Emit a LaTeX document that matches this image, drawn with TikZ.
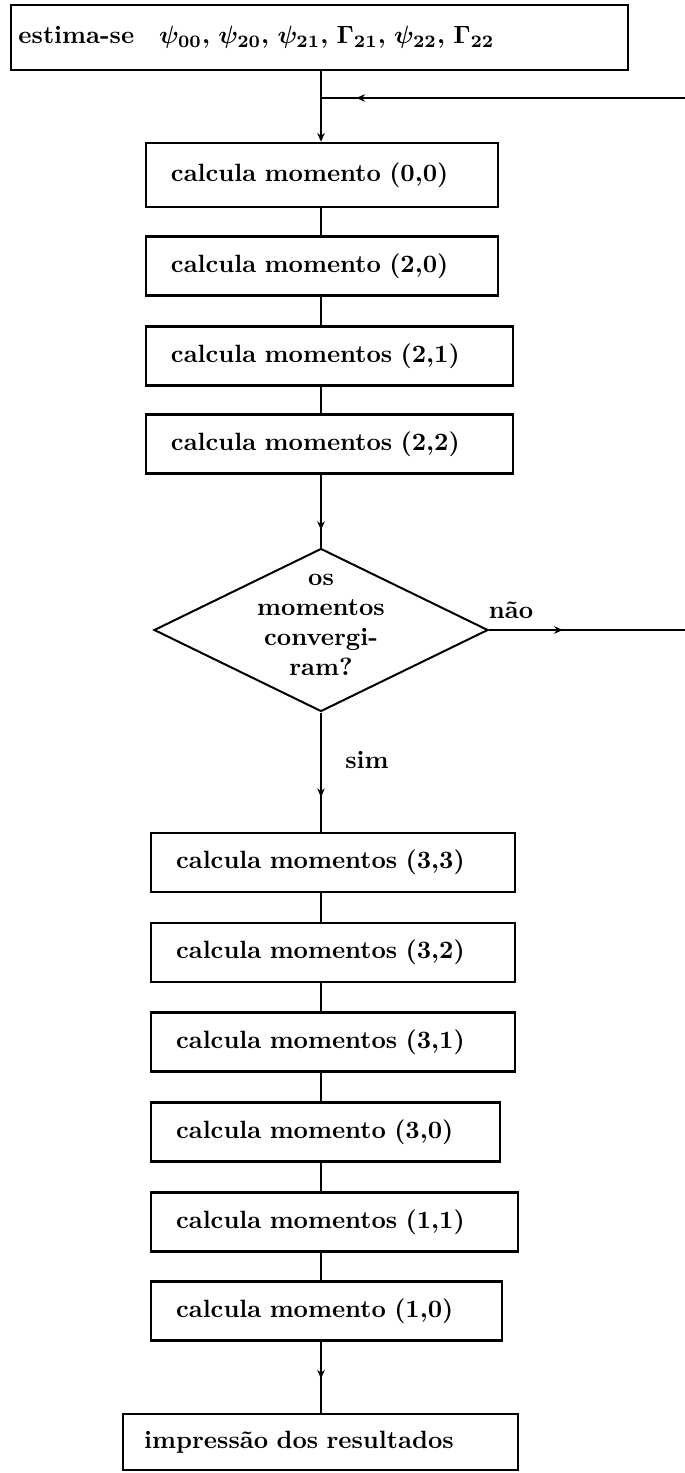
\documentclass[tikz,border=0pt]{standalone}
\usetikzlibrary{shapes.geometric,arrows.meta,decorations.markings}

\tikzset{
  caixa/.style={draw, line width=1pt, text width=#1, align=left, inner xsep=10pt, inner ysep=0pt, minimum height=23.6pt, font=\bfseries},
  decisao/.style={draw, diamond, line width=0.8pt, minimum width=133.6pt, minimum height=65.2pt, inner sep=0pt},
  linha/.style={line width=0.8pt},
  ponta/.style={-{Stealth[length=3.5pt,width=3pt]}},
  seta/.style={postaction={decorate, decoration={markings, mark=at position #1 with {\arrow{Stealth[length=3.5pt,width=3pt]}}}}},
  rotulo/.style={font=\bfseries, inner sep=0pt}
}

\begin{document}
\begin{tikzpicture}[x=0.4pt, y=-0.4pt]
    \useasboundingbox (0,0) rectangle (685,1473);

    % eixo vertical do fluxograma
    \coordinate (eixo) at (321,0);

    \node[caixa=240.8pt, inner xsep=3pt, minimum height=26pt, font=\bfseries\boldmath] (topo) at (319.5,37.5) {estima-se\quad $\psi_{00}$, $\psi_{20}$, $\psi_{21}$, $\Gamma_{21}$, $\psi_{22}$, $\Gamma_{22}$};

    \node[caixa=120.8pt, minimum height=25.6pt] (m00) at (322,175) {calcula momento (0,0)};
    \node[caixa=120.8pt] (m20) at (322,266) {calcula momento (2,0)};
    \node[caixa=126.8pt] (m21) at (329.5,356) {calcula momentos (2,1)};
    \node[caixa=126.8pt] (m22) at (329.5,444) {calcula momentos (2,2)};

    \node[decisao] (conv) at (321,630) {};
    \node[rotulo, align=center] (pergunta) at (321,625) {os\\momentos\\convergi-\\ram?};

    \node[caixa=125.6pt] (m33) at (333,862.5) {calcula momentos (3,3)};
    \node[caixa=125.6pt] (m32) at (333,952.5) {calcula momentos (3,2)};
    \node[caixa=125.6pt] (m31) at (333,1042) {calcula momentos (3,1)};
    \node[caixa=119.6pt] (m30) at (325.5,1132) {calcula momento (3,0)};
    \node[caixa=126.8pt] (m11) at (334.5,1222) {calcula momentos (1,1)};
    \node[caixa=120.4pt] (m10) at (326.5,1311) {calcula momento (1,0)};

    \node[caixa=141pt, inner xsep=8.5pt, minimum height=22.4pt] (impr) at (320.5,1442) {impress\~ao dos resultados};

    \coordinate (juncao) at (321,98);
    \coordinate (canto) at (690,98);

    \draw[linha, ponta] (topo.south -| eixo) -- (m00.north -| eixo);
    \draw[linha] (m00.south -| eixo) -- (m20.north -| eixo);
    \draw[linha] (m20.south -| eixo) -- (m21.north -| eixo);
    \draw[linha] (m21.south -| eixo) -- (m22.north -| eixo);
    \draw[linha, seta=0.76] (m22.south -| eixo) -- (conv.north);

    \draw[linha, seta=0.71] (conv.south) -- (m33.north -| eixo);
    \node[rotulo] (sim) at (367,760) {sim};

    \draw[linha, seta=0.067, seta=0.968] (conv.east) -- (conv.east -| canto) -- (canto) -- (juncao);
    \node[rotulo] (nao) at (511,610) {n\~ao};

    \draw[linha] (m33.south -| eixo) -- (m32.north -| eixo);
    \draw[linha] (m32.south -| eixo) -- (m31.north -| eixo);
    \draw[linha] (m31.south -| eixo) -- (m30.north -| eixo);
    \draw[linha] (m30.south -| eixo) -- (m11.north -| eixo);
    \draw[linha] (m11.south -| eixo) -- (m10.north -| eixo);
    \draw[linha, seta=0.52] (m10.south -| eixo) -- (impr.north -| eixo);
\end{tikzpicture}
\end{document}
